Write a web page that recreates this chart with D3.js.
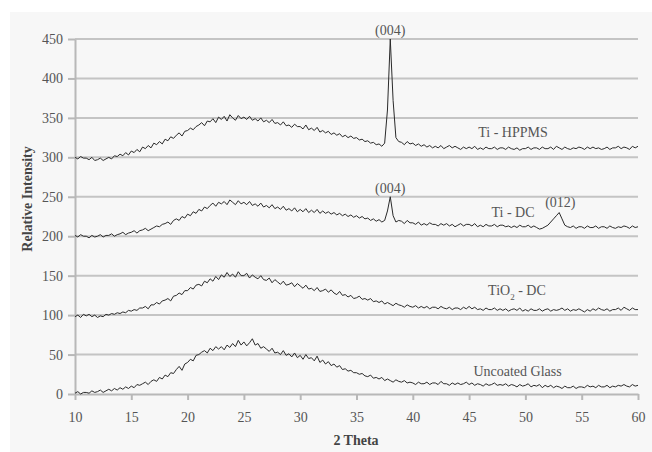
<!DOCTYPE html>
<html>
<head>
    <meta charset="UTF-8">
    <title></title>
    <script src="https://cdnjs.cloudflare.com/ajax/libs/d3/7.8.5/d3.min.js"></script>
    <style>
        body{
            padding: 0;
            margin: 0;
            background: #fff;
        }
        .axis path,
        .axis line{
            fill: none;
            stroke: #b8b8b8;
            stroke-width: 2px;
        }
        .axis text{
            font-family: "Liberation Serif", serif;
            font-size: 14px;
            fill: #555;
        }
        .label{
            font-family: "Liberation Serif", serif;
            font-size: 14px;
            fill: #555;
        }
        .title{
            font-family: "Liberation Serif", serif;
            font-size: 14px;
            font-weight: bold;
            fill: #444;
        }
    </style>
</head>
<body>
<div class="first"></div>

<script>

    // 2 theta from 10 to 60, step 0.25
    var theta = d3.range(0, 201).map(function(i){ return 10 + i*0.25; });

    var yTicks = [0,50,100,150,200,250,300,350,400,450];
    var xTicks = [10,15,20,25,30,35,40,45,50,55,60];

    var glass = [
        1,3,0,2, 2,1,4,2, 3,5,2,4, 6,4,7,5, 8,6,9,7,
        10,8,12,11, 13,15,12,16, 18,16,21,19, 24,22,27,26, 31,35,30,38,
        40,44,42,49, 50,53,55,52, 58,55,60,57, 60,56,62,59, 64,60,68,62,
        66,61,65,70, 62,64,58,60, 57,54,58,52, 53,50,55,49, 51,47,52,46,
        49,44,50,45, 46,42,48,40, 43,38,41,36, 38,34,36,31, 32,29,30,27,
        27,25,26,23, 22,24,20,21, 19,21,17,19, 17,15,18,16, 15,17,14,15,
        14,12,15,13, 13,15,12,14, 14,12,16,13, 13,11,14,12, 14,12,13,15,
        12,14,11,13, 12,10,13,11, 12,14,11,12, 11,13,10,12, 11,9,12,10,
        11,13,9,11, 10,12,8,11, 9,11,8,10, 9,7,10,8, 8,10,7,9,
        9,8,11,9, 10,8,11,9, 9,11,8,10, 9,11,10,12, 10,9,12,10,
        11
    ];

    var tio2 = [
        98,100,97,101, 99,101,98,100, 97,99,98,101, 100,102,101,103, 102,104,103,106,
        105,107,106,109, 109,111,108,113, 113,116,114,118, 119,121,118,124, 125,128,126,131,
        131,135,133,138, 139,137,143,141, 146,143,149,145, 151,148,154,149, 152,148,155,150,
        150,153,147,151, 148,146,150,145, 144,147,141,145, 142,139,143,138, 139,141,136,140,
        137,134,138,133, 134,131,135,130, 131,133,129,132, 128,126,130,125, 126,123,125,121,
        122,124,120,121, 119,121,117,118, 116,118,114,116, 114,112,115,113, 112,110,113,111,
        110,112,109,111, 109,111,108,110, 110,108,111,109, 108,110,107,109, 109,107,110,108,
        111,108,110,107, 108,106,109,107, 107,109,106,108, 106,108,105,107, 108,106,109,105,
        107,105,108,106, 106,108,105,107, 108,105,107,106, 107,109,106,108, 105,107,106,108,
        106,104,107,105, 108,106,109,107, 106,108,105,107, 107,109,106,110, 108,106,109,107,
        107
    ];

    var tiDC = [
        201,199,202,200, 200,198,201,199, 200,202,199,201, 201,203,200,202, 203,205,202,204,
        205,207,204,207, 208,210,207,209, 211,213,212,215, 216,218,215,220, 222,220,225,223,
        228,226,231,229, 234,232,237,235, 239,242,238,243, 241,244,240,246, 243,240,245,241,
        243,240,244,239, 241,238,242,237, 239,236,240,235, 237,234,238,233, 235,232,236,231,
        234,231,235,230, 233,230,234,229, 232,229,231,228, 230,227,229,226, 228,225,227,224,
        226,223,225,222, 223,220,222,219, 221,218,220,232, 250,226,218,220, 219,216,220,217,
        217,215,218,214, 216,214,217,215, 215,213,216,214, 216,213,215,212, 214,216,213,215,
        215,213,216,212, 214,212,215,213, 213,215,212,214, 214,212,213,211, 213,211,214,212,
        212,214,211,213, 211,209,210,212, 214,218,222,226, 230,222,214,212, 211,213,210,212,
        212,210,213,211, 211,213,210,212, 212,210,213,211, 210,212,211,213, 212,210,213,211,
        212
    ];

    var hppms = [
        300,298,301,299, 299,297,300,296, 297,299,296,298, 300,298,302,301, 304,302,306,303,
        308,306,310,307, 313,311,315,312, 318,316,320,317, 323,321,326,324, 328,331,327,333,
        334,337,335,339, 341,344,340,346, 345,349,344,351, 348,352,346,354, 350,347,353,349,
        351,348,352,347, 349,346,350,345, 347,344,348,343, 344,341,345,340, 341,338,342,339,
        339,336,341,335, 337,334,338,332, 334,331,333,329, 331,328,330,326, 328,325,327,324,
        325,322,323,320, 321,318,319,316, 317,314,318,360, 450,372,325,320, 319,316,320,317,
        318,315,317,314, 316,313,315,312, 314,312,315,311, 313,315,312,314, 312,310,313,311,
        313,311,314,310, 312,310,313,311, 311,313,310,312, 312,310,313,311, 310,312,309,311,
        311,313,310,312, 312,310,313,311, 311,313,310,314, 312,310,313,311, 310,312,311,313,
        312,310,313,311, 313,311,312,310, 311,313,310,312, 312,314,311,313, 312,310,314,312,
        314
    ];

    var series = [glass, tio2, tiDC, hppms];

    var seriesNames = ["Uncoated Glass", "TiO2 - DC", "Ti - DC", "Ti - HPPMS"];
    var nameTheta = [49.3, 49.25, 48.9, 48.9];
    var nameValue = [23, 125, 224, 326];

    var peakNames = ["(004)", "(004)", "(012)"];
    var peakTheta = [38.0, 38.0, 53.1];
    var peakValue = [455, 255, 237];

    var width = 652, height = 452;

    var svg = d3.select(".first")
        .append("svg")
        .attr("width", width)
        .attr("height", height);

    // grey panel
    svg.append("rect")
        .attr("x", 10)
        .attr("y", 12)
        .attr("width", width - 10)
        .attr("height", height - 12)
        .attr("fill", "#f7f7f7");

    var x = d3.scaleLinear()
        .domain([10, 60])
        .range([75, 638]);

    var y = d3.scaleLinear()
        .domain([0, 450])
        .range([394, 39]);

    // grid lines
    svg.selectAll(".grid")
        .data(yTicks.slice(1))
        .enter()
        .append("line")
        .attr("class", "grid")
        .attr("x1", x(10))
        .attr("x2", x(60))
        .attr("y1", function(d){ return y(d); })
        .attr("y2", function(d){ return y(d); })
        .attr("stroke", "#c4c4c4")
        .attr("stroke-width", 2);

    var xAxis = d3.axisBottom(x)
        .tickValues(xTicks)
        .tickSize(6)
        .tickPadding(12)
        .tickSizeOuter(0);

    var yAxis = d3.axisLeft(y)
        .tickValues(yTicks)
        .tickSize(7)
        .tickPadding(5)
        .tickSizeOuter(0);

    svg.append("g")
        .attr("class", "axis")
        .attr("transform", "translate(0," + y(0) + ")")
        .call(xAxis);

    svg.append("g")
        .attr("class", "axis")
        .attr("transform", "translate(" + x(10) + ",0)")
        .call(yAxis);

    svg.selectAll(".axis").attr("font-family", null).attr("font-size", null);

    var line = d3.line()
        .x(function(d, i){ return x(theta[i]); })
        .y(function(d){ return y(d); });

    svg.selectAll(".trace")
        .data(series)
        .enter()
        .append("path")
        .attr("class", "trace")
        .attr("d", line)
        .attr("fill", "none")
        .attr("stroke", "#2a2a2a")
        .attr("stroke-width", 1);

    // series names
    svg.selectAll(".sname")
        .data(seriesNames)
        .enter()
        .append("text")
        .attr("class", "label sname")
        .attr("text-anchor", "middle")
        .attr("x", function(d, i){ return x(nameTheta[i]); })
        .attr("y", function(d, i){ return y(nameValue[i]); })
        .each(function(d){
            var t = d3.select(this);
            if (d.indexOf("TiO2") === 0) {
                t.append("tspan").text("TiO");
                t.append("tspan").attr("baseline-shift", "sub").attr("font-size", "9px").text("2");
                t.append("tspan").text(" - DC");
            } else {
                t.text(d);
            }
        });

    svg.selectAll(".peak")
        .data(peakNames)
        .enter()
        .append("text")
        .attr("class", "label peak")
        .attr("text-anchor", "middle")
        .attr("x", function(d, i){ return x(peakTheta[i]); })
        .attr("y", function(d, i){ return y(peakValue[i]); })
        .text(function(d){ return d; });

    svg.append("text")
        .attr("class", "title")
        .attr("text-anchor", "middle")
        .attr("transform", "translate(32,199) rotate(-90)")
        .text("Relative Intensity");

    svg.append("text")
        .attr("class", "title")
        .attr("text-anchor", "middle")
        .attr("x", 356)
        .attr("y", 445)
        .text("2 Theta");

</script>
</body>
</html>
